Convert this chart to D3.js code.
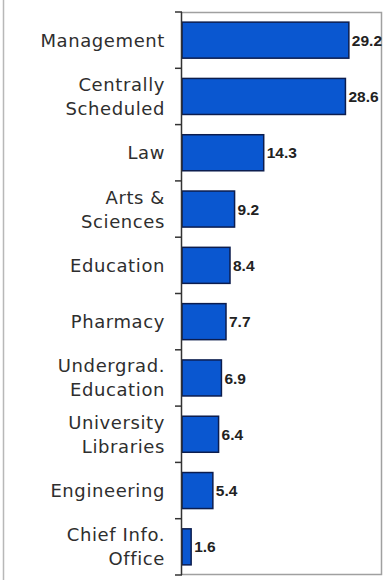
<!DOCTYPE html>
<html>
<head>
<meta charset="utf-8">
<script src="https://cdn.jsdelivr.net/npm/d3@7"></script>
<style>
  html, body { margin: 0; padding: 0; background: #fff; }
  svg { display: block; }
</style>
</head>
<body>
<div id="chart"></div>
<script>
const categories = [
  ["Management"],
  ["Centrally", "Scheduled"],
  ["Law"],
  ["Arts &", "Sciences"],
  ["Education"],
  ["Pharmacy"],
  ["Undergrad.", "Education"],
  ["University", "Libraries"],
  ["Engineering"],
  ["Chief Info.", "Office"]
];
const values = [29.2, 28.6, 14.3, 9.2, 8.4, 7.7, 6.9, 6.4, 5.4, 1.6];
const valueLabels = ["29.2", "28.6", "14.3", "9.2", "8.4", "7.7", "6.9", "6.4", "5.4", "1.6"];
const xDomain = [0, 35];

const W = 391, H = 580;
const margin = { top: 12, right: 9, bottom: 5, left: 182 };

const svg = d3.select("#chart").append("svg").attr("width", W).attr("height", H);

const keys = categories.map((c, i) => i);
const y = d3.scaleBand().domain(keys).range([margin.top, H - margin.bottom]).paddingInner(0.36).paddingOuter(0.18);
const yBounds = d3.scaleBand().domain(keys).range([margin.top, H - margin.bottom]);
const x = d3.scaleLinear().domain(xDomain).range([margin.left, W - margin.right]);

// outer left gray line
svg.append("line").attr("x1", 3.5).attr("x2", 3.5).attr("y1", 0).attr("y2", H)
  .attr("stroke", "#b8b8b8").attr("stroke-width", 1.5);

// plot frame (top, right, bottom)
svg.append("path")
  .attr("d", `M${margin.left},${margin.top + 0.5}H${W - margin.right - 0.5}V${H - margin.bottom - 0.5}H${margin.left}`)
  .attr("fill", "none").attr("stroke", "#a0a0a0").attr("stroke-width", 1.5);

// bars
svg.append("g").selectAll("rect").data(values).join("rect")
  .attr("x", x(0))
  .attr("y", (d, i) => y(i))
  .attr("width", d => x(d) - x(0))
  .attr("height", y.bandwidth())
  .attr("fill", "#0a57d0")
  .attr("stroke", "#0c1d4e")
  .attr("stroke-width", 1.5);

// value labels
svg.append("g").selectAll("text").data(values).join("text")
  .attr("x", d => x(d) + 3)
  .attr("y", (d, i) => y(i) + y.bandwidth() / 2)
  .attr("dy", "0.36em")
  .attr("font-family", "Liberation Sans, Arial, sans-serif")
  .attr("font-weight", "bold")
  .attr("font-size", 15.5)
  .attr("fill", "#222")
  .text((d, i) => valueLabels[i]);

// left axis with boundary ticks
const axisG = svg.append("g");
axisG.append("line").attr("x1", margin.left - 0.5).attr("x2", margin.left - 0.5)
  .attr("y1", margin.top).attr("y2", H - margin.bottom)
  .attr("stroke", "#333").attr("stroke-width", 1.5);
const bounds = keys.map(k => yBounds(k)).concat([H - margin.bottom]);
axisG.selectAll("line.tick").data(bounds).join("line").attr("class", "tick")
  .attr("x1", margin.left - 7).attr("x2", margin.left)
  .attr("y1", d => d).attr("y2", d => d)
  .attr("stroke", "#333").attr("stroke-width", 1.5);

// category labels
const labG = svg.append("g");
categories.forEach((lines, i) => {
  const cy = y(i) + y.bandwidth() / 2;
  const n = lines.length;
  const t = labG.append("text")
    .attr("x", 165)
    .attr("text-anchor", "end")
    .attr("font-family", "DejaVu Sans, Verdana, sans-serif")
    .attr("font-size", 18)
    .attr("letter-spacing", 0.6)
    .attr("fill", "#2e2e2e");
  lines.forEach((ln, j) => {
    t.append("tspan")
      .attr("x", 165)
      .attr("y", cy + (j - (n - 1) / 2) * 24)
      .attr("dy", "0.36em")
      .text(ln);
  });
});
</script>
</body>
</html>
